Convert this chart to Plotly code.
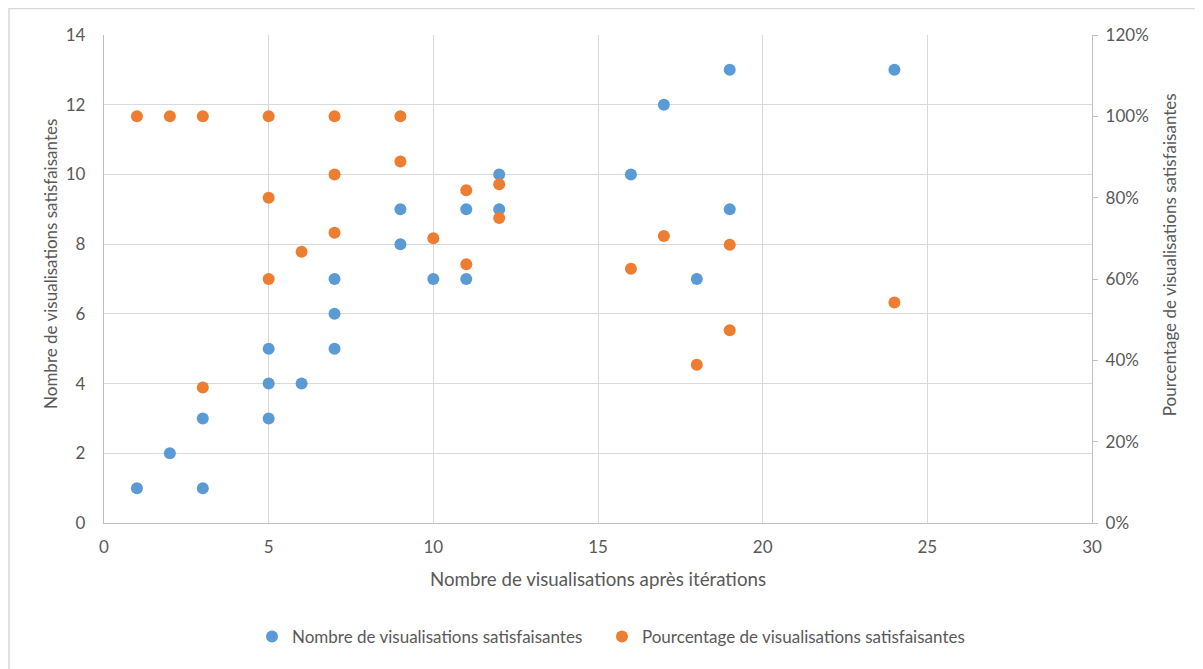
import plotly.graph_objects as go

# iterations (x) and the two measured series
iterations = [1, 2, 3, 3, 5, 5, 5, 6, 7, 7, 7, 9, 9, 10, 11, 11, 12, 12, 16, 17, 18, 19, 19, 24]
nb_satisfaisantes = [1, 2, 3, 1, 5, 4, 3, 4, 7, 6, 5, 9, 8, 7, 9, 7, 10, 9, 10, 12, 7, 13, 9, 13]
pct_satisfaisantes = [1.0, 1.0, 1.0, 0.333, 1.0, 0.8, 0.6, 0.667, 1.0, 0.857, 0.714, 1.0, 0.889,
                      0.7, 0.818, 0.636, 0.833, 0.75, 0.625, 0.706, 0.389, 0.684, 0.474, 0.542]

font_txt = "Lato, Calibri, Carlito, sans-serif"
grey = "#595959"

fig = go.Figure()

fig.add_trace(go.Scatter(x=iterations, y=nb_satisfaisantes, mode="markers",
                         name="Nombre de visualisations satisfaisantes", legend="legend",
                         marker=dict(color="#5B9BD5", size=12)))
fig.add_trace(go.Scatter(x=iterations, y=pct_satisfaisantes, mode="markers", yaxis="y2",
                         name="Pourcentage de visualisations satisfaisantes", legend="legend2",
                         marker=dict(color="#ED7D31", size=12)))

leg = dict(orientation="h", xanchor="left", y=-0.2336, yanchor="middle",
           font=dict(size=17, color=grey), bgcolor="rgba(0,0,0,0)")

fig.update_layout(
    width=1195, height=661,
    margin=dict(l=96, r=111, t=27, b=146),
    paper_bgcolor="white", plot_bgcolor="white",
    font=dict(family=font_txt, size=17, color=grey),
    showlegend=True,
    legend=dict(leg, x=0.1498),
    legend2=dict(leg, x=0.504),
    xaxis=dict(range=[0, 30], dtick=5, showgrid=True, gridcolor="#D9D9D9", gridwidth=1.3,
               showline=True, linecolor="#BFBFBF", linewidth=1.3, zeroline=False,
               ticks="", ticklabelstandoff=8,
               title=dict(text="Nombre de visualisations après itérations", standoff=17,
                          font=dict(size=18.7, color=grey))),
    yaxis=dict(range=[0, 14], dtick=2, showgrid=True, gridcolor="#D9D9D9", gridwidth=1.3,
               showline=True, linecolor="#BFBFBF", linewidth=1.3, zeroline=False,
               ticks="", ticklabelstandoff=14),
    yaxis2=dict(range=[0, 1.2], dtick=0.2, tickformat=".0%", overlaying="y", side="right",
                showgrid=False, zeroline=False, showline=True, linecolor="#BFBFBF", linewidth=1.3,
                ticks="outside", ticklen=5, tickcolor="#BFBFBF", ticklabelstandoff=4),
    annotations=[
        dict(text="Nombre de visualisations satisfaisantes", xref="paper", yref="paper",
             x=-0.0547, y=0.5307, xanchor="center", yanchor="middle", textangle=-90,
             showarrow=False, font=dict(size=17, color=grey)),
        dict(text="Pourcentage de visualisations satisfaisantes", xref="paper", yref="paper",
             x=1.078, y=0.549, xanchor="center", yanchor="middle", textangle=-90,
             showarrow=False, font=dict(size=17, color=grey)),
    ],
    shapes=[dict(type="rect", xref="paper", yref="paper", x0=-0.0962, x1=1.13, y0=-0.35, y1=1.0543,
                 line=dict(color="#D9D9D9", width=1.5), fillcolor="rgba(0,0,0,0)", layer="below")],
)

fig.write_html("out.html")
